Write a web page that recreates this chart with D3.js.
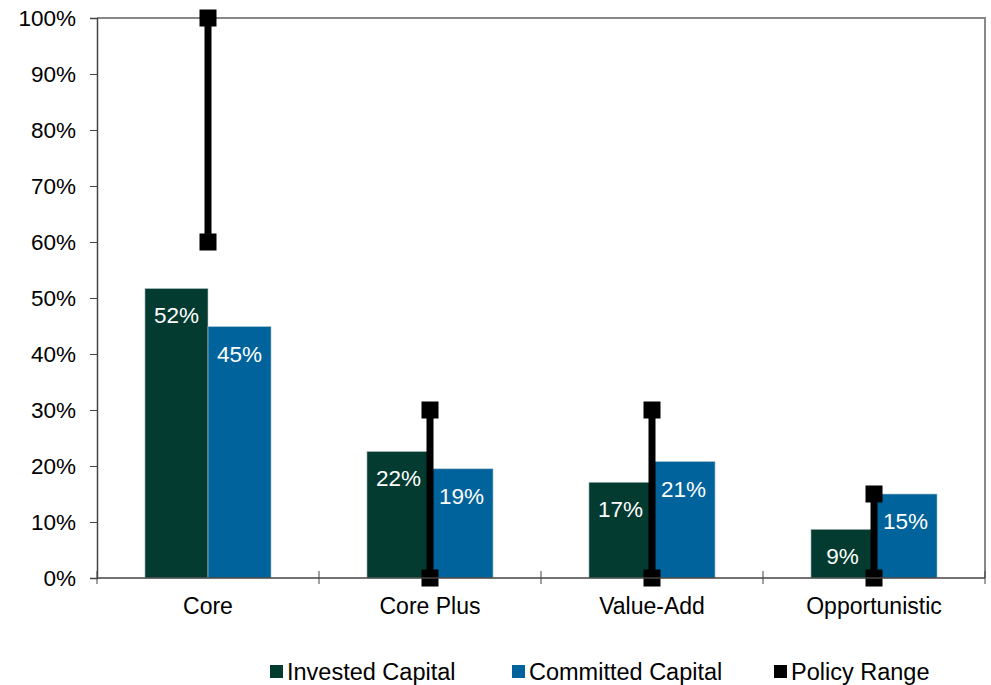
<!DOCTYPE html>
<html>
<head>
<meta charset="utf-8">
<script src="https://cdn.jsdelivr.net/npm/d3@7"></script>
<style>
  body { margin: 0; background: #fff; }
  svg { font-family: "Liberation Sans", Arial, sans-serif; }
</style>
</head>
<body>
<div id="chart"></div>
<script>
// chart data
const categories = ["Core", "Core Plus", "Value-Add", "Opportunistic"];
const invested = [51.7, 22.6, 17.1, 8.7];
const committed = [44.9, 19.5, 20.8, 15.0];
const investedLabels = ["52%", "22%", "17%", "9%"];
const committedLabels = ["45%", "19%", "21%", "15%"];
const policyLow = [60, 0, 0, 0];
const policyHigh = [100, 30, 30, 15];
const yTicks = [0, 10, 20, 30, 40, 50, 60, 70, 80, 90, 100];
const seriesNames = ["Invested Capital", "Committed Capital", "Policy Range"];
const colors = ["#033b31", "#00639b", "#000000"];

const width = 991, height = 685;
const margin = {top: 18, right: 6, bottom: 107, left: 97};

const svg = d3.select("#chart").append("svg")
  .attr("width", width)
  .attr("height", height);

const x = d3.scaleBand()
  .domain(categories)
  .range([margin.left, width - margin.right]);

const xInner = d3.scaleBand()
  .domain([0, 1])
  .range([x.bandwidth() * 0.216, x.bandwidth() * 0.784]);

const y = d3.scaleLinear()
  .domain([0, 100])
  .range([height - margin.bottom, margin.top]);

// plot border (top and right)
svg.append("path")
  .attr("d", `M${margin.left},${margin.top}H${width - margin.right}V${height - margin.bottom}`)
  .attr("fill", "none")
  .attr("stroke", "#888")
  .attr("stroke-width", 2);

// bars
const groups = svg.selectAll("g.cat")
  .data(categories)
  .enter().append("g")
  .attr("class", "cat")
  .attr("transform", d => `translate(${x(d)},0)`);

[invested, committed].forEach((vals, s) => {
  const labels = s === 0 ? investedLabels : committedLabels;
  groups.append("rect")
    .attr("x", xInner(s))
    .attr("width", xInner.bandwidth())
    .attr("y", (d, i) => y(vals[i]))
    .attr("height", (d, i) => y(0) - y(vals[i]))
    .attr("fill", colors[s])
    .attr("stroke", "#b8c8cc")
    .attr("stroke-width", 0.6);

  groups.append("text")
    .attr("x", xInner(s) + xInner.bandwidth() / 2)
    .attr("y", (d, i) => y(vals[i]) + 35)
    .attr("text-anchor", "middle")
    .attr("fill", "#fff")
    .style("font-size", "22.5px")
    .text((d, i) => labels[i]);
});

// y axis
const yAxis = svg.append("g")
  .attr("transform", `translate(${margin.left},0)`)
  .call(d3.axisLeft(y).tickValues(yTicks).tickSize(7).tickPadding(14).tickFormat(d => d + "%"));
yAxis.select(".domain").attr("stroke", "#444").attr("stroke-width", 1.5);
yAxis.selectAll(".tick line").attr("stroke", "#444");
yAxis.selectAll(".tick text")
  .style("font-size", "22.5px")
  .attr("fill", "#000")
  .attr("font-family", "Liberation Sans, Arial, sans-serif");

// x axis
svg.append("line")
  .attr("x1", margin.left).attr("x2", width - margin.right)
  .attr("y1", y(0)).attr("y2", y(0))
  .attr("stroke", "#444").attr("stroke-width", 1.5);
const bounds = categories.map(c => x(c)).concat([width - margin.right]);
svg.selectAll("line.xtick")
  .data(bounds)
  .enter().append("line")
  .attr("class", "xtick")
  .attr("x1", d => d).attr("x2", d => d)
  .attr("y1", y(0) - 7).attr("y2", y(0) + 6)
  .attr("stroke", "#444");
svg.selectAll("text.xlabel")
  .data(categories)
  .enter().append("text")
  .attr("class", "xlabel")
  .attr("x", d => x(d) + x.bandwidth() / 2)
  .attr("y", 614)
  .attr("text-anchor", "middle")
  .style("font-size", "23px")
  .text(d => d);

// policy range
const mk = 17;
groups.append("line")
  .attr("x1", x.bandwidth() / 2).attr("x2", x.bandwidth() / 2)
  .attr("y1", (d, i) => y(policyLow[i]))
  .attr("y2", (d, i) => y(policyHigh[i]))
  .attr("stroke", "#000")
  .attr("stroke-width", 7);
[policyLow, policyHigh].forEach(vals => {
  groups.append("rect")
    .attr("x", x.bandwidth() / 2 - mk / 2)
    .attr("y", (d, i) => y(vals[i]) - mk / 2)
    .attr("width", mk).attr("height", mk)
    .attr("fill", "#000");
});

// legend
const legendX = [270, 512, 774];
const legend = svg.selectAll("g.legend")
  .data(seriesNames)
  .enter().append("g")
  .attr("class", "legend")
  .attr("transform", (d, i) => `translate(${legendX[i]},665)`);
legend.append("rect")
  .attr("width", 13).attr("height", 13)
  .attr("fill", (d, i) => colors[i]);
legend.append("text")
  .attr("x", 17).attr("y", 15)
  .style("font-size", "23.5px")
  .text(d => d);
</script>
</body>
</html>
